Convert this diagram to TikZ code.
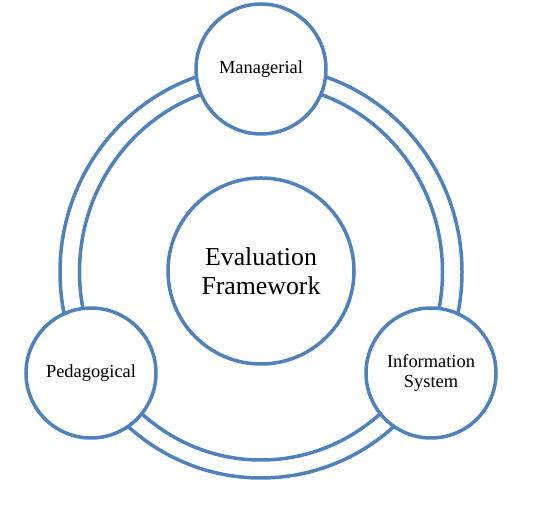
\documentclass[tikz,border=0pt]{standalone}
\usepackage{fontspec}
\setmainfont{Liberation Serif}
\definecolor{ringblue}{RGB}{79,129,189}
\tikzstyle{ring}=[draw=ringblue,line width=1.75pt]
\tikzstyle{vertexs}=[ring,circle,fill=white,minimum size=65pt,inner sep=0pt,align=center,font=\fontsize{9.2}{9.6}\selectfont]
\tikzstyle{vertexc}=[ring,circle,fill=white,minimum size=93pt,inner sep=0pt,align=center,font=\fontsize{12.9}{14.5}\selectfont]

\begin{document}
\begin{tikzpicture}[x=0.5pt,y=-0.5pt]
    \useasboundingbox (0,0) rectangle (540,506);
    \draw[ring] (261,272) ellipse [x radius=201,y radius=206];
    \draw[ring] (261,272) ellipse [x radius=181.5,y radius=188];
    \node[vertexc] (eval) at (261,271) {Evaluation\\Framework};
    \node[vertexs] (man) at (261,69)  {Managerial};
    \node[vertexs] (ped) at (91,373)  {Pedagogical};
    \node[vertexs] (inf) at (431,373) {Information\\System};
\end{tikzpicture}
\end{document}
